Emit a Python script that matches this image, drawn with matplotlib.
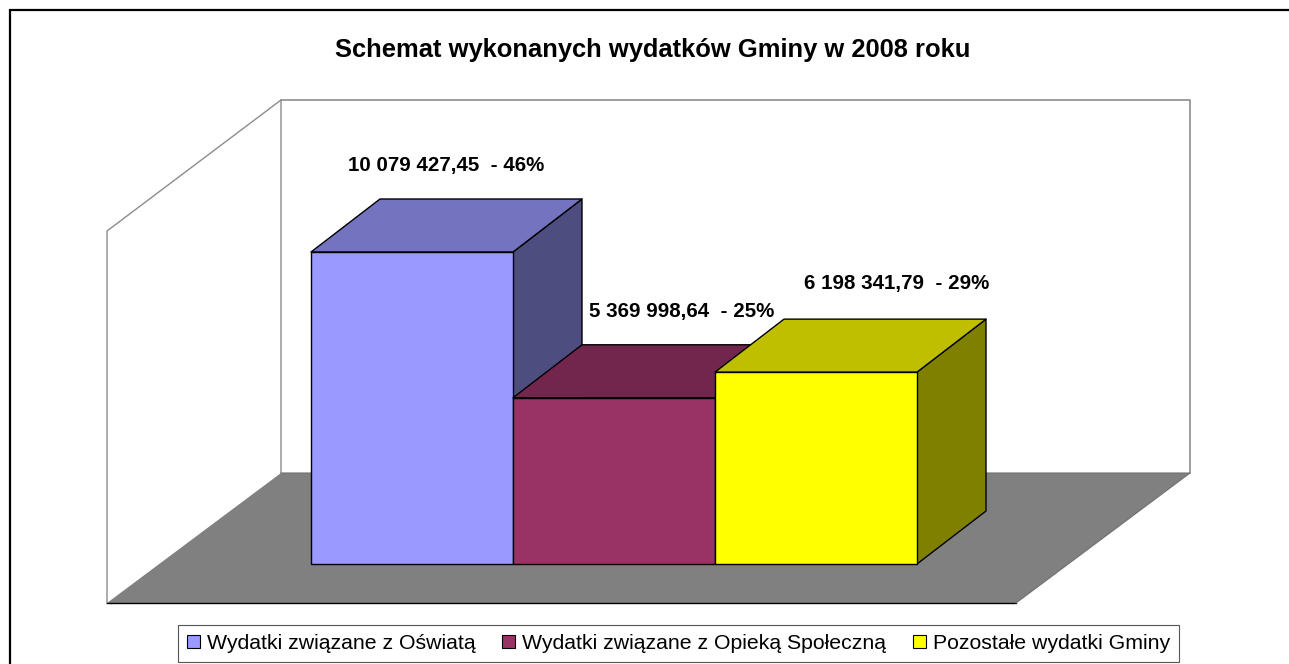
import matplotlib
matplotlib.use('Agg')
import matplotlib.pyplot as plt
from matplotlib.patches import Polygon, Patch
from matplotlib.colors import to_rgb

plt.rcParams.update({
    "font.family": ["Liberation Sans", "DejaVu Sans"],
})

W, H = 1289, 664

categories = ['Wydatki związane z Oświatą', 'Wydatki związane z Opieką Społeczną', 'Pozostałe wydatki Gminy']
values = [10079427.45, 5369998.64, 6198341.79]
value_labels = ['10 079 427,45  - 46%', '5 369 998,64  - 25%', '6 198 341,79  - 29%']
colors = ['#9999FF', '#993366', '#FFFF00']
title = 'Schemat wykonanych wydatków Gminy w 2008 roku'

# pixel layout of the fake 3D box
BAR_LEFT, BAR_RIGHT = 311, 917
BAR_BOTTOM, BAR_TOP = 564, 252
DEPTH_X, DEPTH_Y = 69, 53
LABEL_XY = [(446, 165), (682, 311), (897, 283)]


def shade(color, k):
    return tuple(c * k for c in to_rgb(color))


fig = plt.figure(figsize=(W / 100, H / 100), dpi=100, facecolor='white')

# background axes in pixel coordinates: frame, walls, floor, texts
bg = fig.add_axes([0, 0, 1, 1])
bg.set_xlim(0, W)
bg.set_ylim(H, 0)
bg.axis('off')

bg.plot([10, 10, W], [H, 9.5, 9.5], color='black', lw=1.6, solid_joinstyle='miter')

wall = '#8C8C8C'
bg.plot([281, 1190, 1190], [100, 100, 473], color=wall, lw=1.2)
bg.plot([107, 107, 281, 281], [603, 231, 100, 473], color=wall, lw=1.0)
bg.add_patch(Polygon([(281, 473), (1190, 473), (1016, 603), (107, 603)], closed=True,
                     facecolor='#808080', edgecolor='none'))
bg.plot([107, 1016], [603, 603], color='black', lw=1.0)
bg.plot([1016, 1190, 281], [603, 473, 473], color='#707070', lw=0.8)

bg.text(653, 50, title, ha='center', va='center', fontsize=18.4, fontweight='bold')

# bars axes: value scale mapped on the front face of the first bar
ax = fig.add_axes([BAR_LEFT / W, (H - BAR_BOTTOM) / H,
                   (BAR_RIGHT - BAR_LEFT) / W, (BAR_BOTTOM - BAR_TOP) / H])
ax.set_xlim(0, len(values))
ax.set_ylim(0, max(values))
ax.axis('off')

dx = DEPTH_X / ((BAR_RIGHT - BAR_LEFT) / len(values))
dy = DEPTH_Y / ((BAR_BOTTOM - BAR_TOP) / max(values))

for i, (v, c) in enumerate(zip(values, colors)):
    edge = dict(edgecolor='black', linewidth=1.0, clip_on=False, joinstyle='round')
    ax.add_patch(Polygon([(i + 1, 0), (i + 1 + dx, dy), (i + 1 + dx, v + dy), (i + 1, v)],
                         closed=True, facecolor=shade(c, 0.5), zorder=2 + i, **edge))
    ax.add_patch(Polygon([(i, v), (i + dx, v + dy), (i + 1 + dx, v + dy), (i + 1, v)],
                         closed=True, facecolor=shade(c, 0.75), zorder=2 + i, **edge))
    ax.bar(i + 0.5, v, width=1.0, color=c, zorder=2 + i, **edge)

# labels on top of everything
top = fig.add_axes([0, 0, 1, 1])
top.set_xlim(0, W)
top.set_ylim(H, 0)
top.axis('off')
for (x, y), s in zip(LABEL_XY, value_labels):
    top.text(x, y, s, ha='center', va='center', fontsize=14.8, fontweight='bold')

handles = [Patch(facecolor=c, edgecolor='black', linewidth=0.8) for c in colors]
leg = top.legend(handles, categories, ncol=3, loc='center',
                 bbox_to_anchor=(678.5, 643.5), bbox_transform=top.transData,
                 fontsize=15.3, frameon=True, fancybox=False, framealpha=1,
                 edgecolor='#555555', handlelength=0.62, handleheight=0.62,
                 handletextpad=0.32, columnspacing=1.27, borderpad=0.42,
                 borderaxespad=0)
leg.get_frame().set_linewidth(0.8)

fig.savefig('out.png', dpi=100, facecolor='white')
plt.close(fig)
